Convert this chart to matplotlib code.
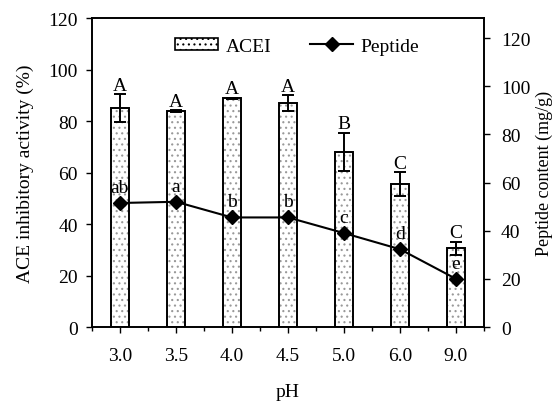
import matplotlib
matplotlib.use("Agg")
import matplotlib.pyplot as plt
import matplotlib.patches as mpatches
from matplotlib.lines import Line2D
from matplotlib.ticker import MultipleLocator
import numpy as np

plt.rcParams['font.family'] = ['Liberation Serif', 'DejaVu Serif']
plt.rcParams['hatch.linewidth'] = 0.8

# data
ph_labels = ["3.0", "3.5", "4.0", "4.5", "5.0", "6.0", "9.0"]
acei = [85.0, 84.0, 88.8, 87.0, 68.0, 55.5, 30.5]
acei_err = [5.5, 0.4, 0.3, 3.0, 7.5, 4.8, 2.7]
acei_letters = ["A", "A", "A", "A", "B", "C", "C"]
peptide = [51.5, 52.0, 45.5, 45.5, 39.0, 32.3, 20.0]
peptide_letters = ["ab", "a", "b", "b", "c", "d", "e"]

x = np.arange(len(ph_labels))
fs = 14

fig = plt.figure(figsize=(5.59, 4.02), dpi=100)
ax = fig.add_axes([0.1646, 0.184, 0.7012, 0.7687])
ax2 = ax.twinx()

# bars: gray dotted fill, then black outline on top
ax.bar(x, acei, width=0.33, color='white', edgecolor='#999999', hatch='...', linewidth=0)
ax.bar(x, acei, width=0.33, color='none', edgecolor='black', linewidth=1.4)
ax.errorbar(x, acei, yerr=acei_err, fmt='none', ecolor='black', elinewidth=1.4,
            capsize=4.5, capthick=1.4)

for xi, v, e, lab in zip(x, acei, acei_err, acei_letters):
    ax.annotate(lab, (xi, v + e), xytext=(0, 3), textcoords='offset points',
                ha='center', va='baseline', fontsize=fs)

ax2.plot(x, peptide, color='black', linewidth=1.5, marker='D', markersize=7)
for xi, v, lab in zip(x, peptide, peptide_letters):
    ax2.annotate(lab, (xi, v), xytext=(0, 8), textcoords='offset points',
                 ha='center', va='baseline', fontsize=fs)

ax.set_xlim(-0.5, len(x) - 0.5)
ax.set_ylim(0, 120)
ax2.set_ylim(0, 128.3)
ax.set_xticks(x)
ax.set_xticklabels(ph_labels)
ax.xaxis.set_minor_locator(MultipleLocator(0.5))
ax.yaxis.set_major_locator(MultipleLocator(20))
ax2.set_yticks([0, 20, 40, 60, 80, 100, 120])

for a in (ax, ax2):
    a.tick_params(direction='out', length=4.3, width=1, labelsize=fs)
    for s in a.spines.values():
        s.set_linewidth(1.2)
ax.tick_params(axis='x', which='minor', length=3, width=1)
ax.tick_params(axis='x', pad=10)
ax.tick_params(axis='y', pad=6)
ax2.tick_params(axis='y', pad=8)

ax.set_xlabel("pH", fontsize=fs)
ax.set_ylabel("ACE inhibitory activity (%)", fontsize=fs)
ax2.set_ylabel("Peptide content (mg/g)", fontsize=13)
ax.xaxis.set_label_coords(0.5, -0.18)
ax.yaxis.set_label_coords(-0.148, 0.5)
ax2.yaxis.set_label_coords(1.132, 0.5)

# legend
h1 = mpatches.Patch(facecolor='white', edgecolor='black', hatch='...', linewidth=1.2)
h2 = Line2D([], [], color='black', linewidth=1.5, marker='D', markersize=7)
ax2.legend([h1, h2], ["ACEI", "Peptide"], ncol=2, frameon=False, fontsize=fs,
           loc='center left', bbox_to_anchor=(0.212, 0.909), borderpad=0,
           borderaxespad=0, columnspacing=2.0, handlelength=2.2,
           handletextpad=0.4, handleheight=0.55)

fig.savefig("out.png", dpi=100)
